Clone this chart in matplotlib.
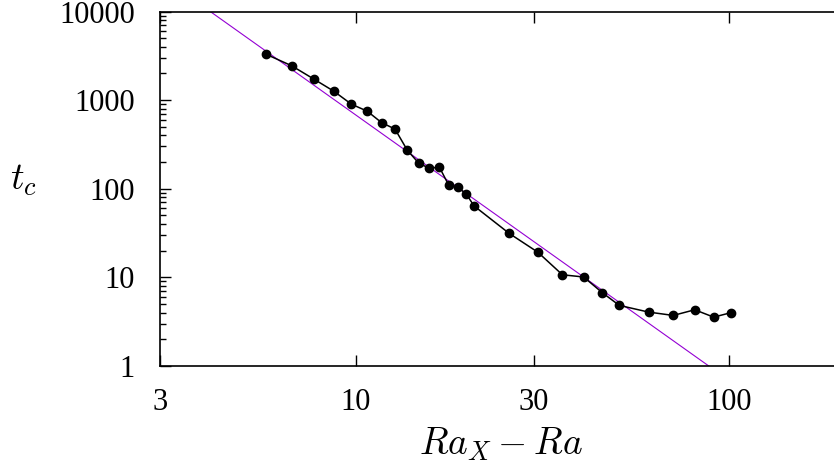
import matplotlib
matplotlib.use('Agg')
import matplotlib.pyplot as plt
import numpy as np
from matplotlib.ticker import FixedLocator, LogLocator, NullFormatter, NullLocator

# Ra_X - Ra and critical time t_c
dra = [5.75, 6.75, 7.75, 8.75, 9.75, 10.75, 11.75, 12.75, 13.75, 14.75,
       15.75, 16.75, 17.75, 18.75, 19.75, 20.75, 25.75, 30.75, 35.75, 40.75,
       45.75, 50.75, 60.75, 70.75, 80.75, 90.75, 100.75]
tc = [3310, 2440, 1720, 1260, 900, 750, 556, 472, 273, 195,
      170, 176, 110, 104, 88, 64, 31.4, 19.2, 10.7, 10.1,
      6.7, 4.83, 4.06, 3.72, 4.31, 3.56, 3.99]

# power law fit t_c = A * (Ra_X - Ra)^-3
fit_A = 6.83e5
fit_exp = -3.0

xticks = [3, 10, 30, 100]
yticks = [1, 10, 100, 1000, 10000]

plt.rcParams['font.family'] = ['Liberation Serif', 'DejaVu Serif']
plt.rcParams['mathtext.fontset'] = 'cm'

fig = plt.figure(figsize=(8.34, 4.67), dpi=100)
ax = fig.add_axes([160 / 834, 1 - 366 / 467, 682 / 834, 354.5 / 467])

xf = np.logspace(np.log10(3), np.log10(200), 200)
ax.plot(xf, fit_A * xf ** fit_exp, color='#9400d3', lw=0.8, zorder=2)
ax.plot(dra, tc, color='black', lw=1.1, marker='o', ms=6, zorder=3)

ax.set_xscale('log')
ax.set_yscale('log')
ax.set_xlim(3, 200)
ax.set_ylim(1, 10000)

ax.xaxis.set_major_locator(FixedLocator(xticks))
ax.xaxis.set_minor_locator(NullLocator())
ax.set_xticklabels([str(t) for t in xticks])
ax.yaxis.set_major_locator(FixedLocator(yticks))
ax.yaxis.set_minor_locator(LogLocator(base=10, subs=np.arange(2, 10)))
ax.yaxis.set_minor_formatter(NullFormatter())
ax.set_yticklabels([str(t) for t in yticks])

ax.tick_params(which='both', direction='in', top=True, right=False,
               labelsize=22, width=1.0)
ax.tick_params(which='major', length=8)
ax.tick_params(which='minor', length=4)
ax.tick_params(axis='x', pad=16)
ax.tick_params(axis='y', pad=18)

for s in ax.spines.values():
    s.set_linewidth(1.2)
ax.spines['right'].set_visible(False)

ax.set_xlabel(r'$Ra_X - Ra$', fontsize=27, labelpad=6)
ax.set_ylabel(r'$t_c$', fontsize=27, rotation=0, va='center', ha='center')
ax.yaxis.set_label_coords(-0.2, 0.525)

fig.savefig('out.png', dpi=100)
